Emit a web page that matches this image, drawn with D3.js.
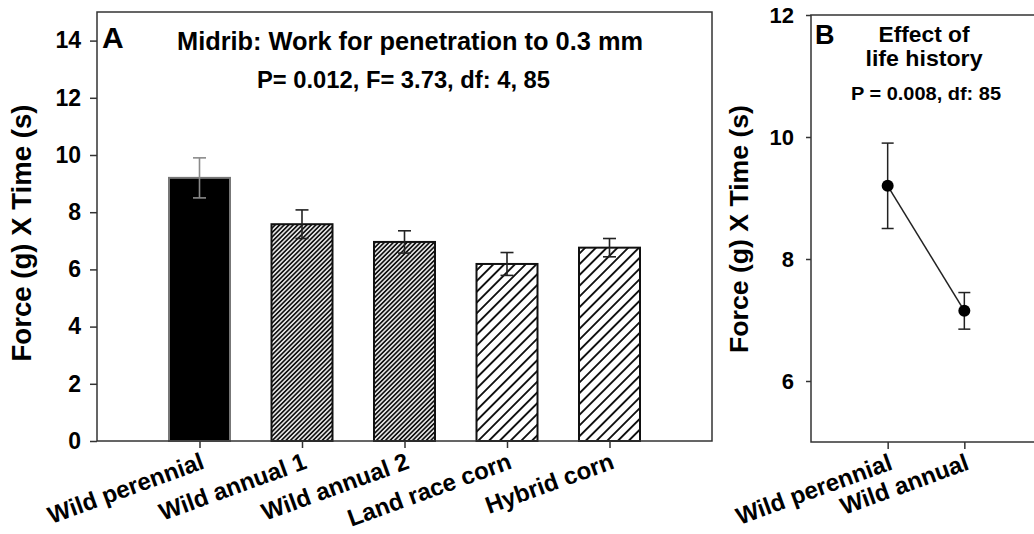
<!DOCTYPE html>
<html>
<head>
<meta charset="utf-8">
<script src="https://cdn.jsdelivr.net/npm/d3@7"></script>
<style>
body { margin: 0; background: #fff; }
svg { display: block; font-family: "Liberation Sans", Arial, sans-serif; font-weight: bold; fill: #000; }
</style>
</head>
<body>
<svg id="chart" width="1034" height="534"></svg>
<script>
// panel A data
var categories_a = ['Wild perennial', 'Wild annual 1', 'Wild annual 2', 'Land race corn', 'Hybrid corn'];
var means_a      = [9.2, 7.58, 6.96, 6.19, 6.76];
var errors_a     = [0.7, 0.5, 0.39, 0.4, 0.32];
var ticks_a      = [0, 2, 4, 6, 8, 10, 12, 14];

// panel B data
var categories_b = ['Wild perennial', 'Wild annual'];
var means_b      = [9.2, 7.15];
var errors_b     = [0.7, 0.3];
var ticks_b      = [6, 8, 10, 12];

// fill for each bar of panel A
var fill_for = {
    'Wild perennial' : '#000',
    'Wild annual 1'  : 'url(#hatch-dense)',
    'Wild annual 2'  : 'url(#hatch-dense)',
    'Land race corn' : 'url(#hatch-sparse)',
    'Hybrid corn'    : 'url(#hatch-sparse)'
};

var svg  = d3.select('#chart');
var defs = svg.append('defs');

// hatch pattern
function add_hatch(id, size, width) {
    var p = defs.append('pattern')
        .attr('id', id)
        .attr('patternUnits', 'userSpaceOnUse')
        .attr('width', size)
        .attr('height', size)
        .attr('patternTransform', 'rotate(45)');
    p.append('rect').attr('width', size).attr('height', size).attr('fill', '#fff');
    p.append('line')
        .attr('x1', size / 2).attr('y1', 0)
        .attr('x2', size / 2).attr('y2', size)
        .attr('stroke', '#111')
        .attr('stroke-width', width);
}
add_hatch('hatch-dense', 3.2, 1.8);
add_hatch('hatch-sparse', 7.6, 1.9);

// error bar helper
function draw_errors(g, xs, ys, means, errors, cats, color, width, cap) {
    cats.forEach(function(c, i) {
        var cx = xs(c);
        var top = ys(means[i] + errors[i]);
        var bottom = ys(means[i] - errors[i]);
        var e = g.append('g')
            .attr('stroke', typeof color == 'function' ? color(c) : color)
            .attr('stroke-width', width);
        e.append('line').attr('x1', cx).attr('x2', cx).attr('y1', top).attr('y2', bottom);
        e.append('line').attr('x1', cx - cap).attr('x2', cx + cap).attr('y1', top).attr('y2', top);
        e.append('line').attr('x1', cx - cap).attr('x2', cx + cap).attr('y1', bottom).attr('y2', bottom);
    });
}

// rotated category labels
function draw_labels(g, xs, cats, base_y) {
    g.selectAll('text.cat')
        .data(cats)
        .enter()
        .append('text')
        .attr('class', 'cat')
        .attr('font-size', 24)
        .attr('text-anchor', 'end')
        .attr('transform', function(d) {
            return 'translate(' + (xs(d) + 6) + ',' + (base_y + 27) + ') rotate(-20)';
        })
        .text(function(d) { return d; });
}

// style an axis
function style_axis(g, size) {
    g.select('.domain').remove();
    g.selectAll('.tick line').attr('stroke', '#333').attr('stroke-width', 1.5);
    g.selectAll('.tick text')
        .attr('font-size', size)
        .attr('font-family', '"Liberation Sans", Arial, sans-serif')
        .attr('font-weight', 'bold')
        .attr('fill', '#000');
}

// ---------------- panel A ----------------
var a = { left: 97, right: 712, top: 12, bottom: 441 };
var xa = d3.scalePoint().domain(categories_a).range([a.left, a.right]).padding(1);
var ya = d3.scaleLinear().domain([0, 15]).range([a.bottom, a.top]);
var ga = svg.append('g');

// bars
ga.selectAll('rect.bar')
    .data(categories_a)
    .enter()
    .append('rect')
    .attr('class', 'bar')
    .attr('x', function(d) { return xa(d) - 30.5; })
    .attr('width', 61)
    .attr('y', function(d, i) { return ya(means_a[i]); })
    .attr('height', function(d, i) { return ya(0) - ya(means_a[i]); })
    .attr('fill', function(d) { return fill_for[d]; })
    .attr('stroke', function(d, i) { return i == 0 ? '#777' : '#111'; })
    .attr('stroke-width', 2);

draw_errors(ga, xa, ya, means_a, errors_a, categories_a,
    function(c) { return c == 'Wild perennial' ? '#8a8a8a' : '#222'; }, 1.6, 6.5);

// frame
ga.append('rect')
    .attr('x', a.left).attr('y', a.top)
    .attr('width', a.right - a.left).attr('height', a.bottom - a.top)
    .attr('fill', 'none').attr('stroke', '#333').attr('stroke-width', 1.5);

// axes
ga.append('g')
    .attr('transform', 'translate(' + a.left + ',0)')
    .call(d3.axisLeft(ya).tickValues(ticks_a).tickSize(7).tickPadding(9))
    .call(style_axis, 23);
ga.append('g')
    .attr('transform', 'translate(0,' + a.bottom + ')')
    .call(d3.axisBottom(xa).tickSize(7).tickFormat(''))
    .call(style_axis, 23);
draw_labels(ga, xa, categories_a, a.bottom);

// titles
ga.append('text').attr('x', 102).attr('y', 48).attr('font-size', 30).text('A');
ga.append('text').attr('x', 177).attr('y', 50).attr('font-size', 25)
    .attr('textLength', 466).attr('lengthAdjust', 'spacingAndGlyphs')
    .text('Midrib: Work for penetration to 0.3 mm');
ga.append('text').attr('x', 257).attr('y', 88).attr('font-size', 23)
    .attr('textLength', 293).attr('lengthAdjust', 'spacingAndGlyphs')
    .text('P= 0.012, F= 3.73, df: 4, 85');
ga.append('text')
    .attr('transform', 'translate(31,233) rotate(-90)')
    .attr('text-anchor', 'middle').attr('font-size', 27)
    .attr('textLength', 257).attr('lengthAdjust', 'spacingAndGlyphs')
    .text('Force (g) X Time (s)');

// ---------------- panel B ----------------
var b = { left: 811, right: 1041, top: 15, bottom: 442 };
var xb = d3.scalePoint().domain(categories_b).range([b.left, b.right]).padding(1);
var yb = d3.scaleLinear().domain([5, 12]).range([b.bottom, b.top]);
var gb = svg.append('g');

// frame
gb.append('rect')
    .attr('x', b.left).attr('y', b.top)
    .attr('width', 240).attr('height', b.bottom - b.top)
    .attr('fill', 'none').attr('stroke', '#333').attr('stroke-width', 1.5);

// connecting line
gb.append('path')
    .datum(categories_b)
    .attr('d', d3.line()
        .x(function(d) { return xb(d); })
        .y(function(d, i) { return yb(means_b[i]); }))
    .attr('fill', 'none').attr('stroke', '#222').attr('stroke-width', 1.5);

draw_errors(gb, xb, yb, means_b, errors_b, categories_b, '#222', 1.5, 6);

// points
gb.selectAll('circle')
    .data(categories_b)
    .enter()
    .append('circle')
    .attr('cx', function(d) { return xb(d); })
    .attr('cy', function(d, i) { return yb(means_b[i]); })
    .attr('r', 6)
    .attr('fill', '#000');

// axes
gb.append('g')
    .attr('transform', 'translate(' + b.left + ',0)')
    .call(d3.axisLeft(yb).tickValues(ticks_b).tickSize(5).tickPadding(12).tickFormat(d3.format('d')))
    .call(style_axis, 22);
gb.append('g')
    .attr('transform', 'translate(0,' + b.bottom + ')')
    .call(d3.axisBottom(xb).tickSize(7).tickFormat(''))
    .call(style_axis, 22);
draw_labels(gb, xb, categories_b, b.bottom);

// titles
gb.append('text').attr('x', 815).attr('y', 44).attr('font-size', 27).text('B');
gb.append('text').attr('x', 924).attr('y', 42).attr('font-size', 22)
    .attr('text-anchor', 'middle')
    .attr('textLength', 91).attr('lengthAdjust', 'spacingAndGlyphs')
    .text('Effect of');
gb.append('text').attr('x', 924).attr('y', 66).attr('font-size', 22)
    .attr('text-anchor', 'middle')
    .attr('textLength', 117).attr('lengthAdjust', 'spacingAndGlyphs')
    .text('life history');
gb.append('text').attr('x', 926).attr('y', 100).attr('font-size', 19)
    .attr('text-anchor', 'middle')
    .attr('textLength', 150).attr('lengthAdjust', 'spacingAndGlyphs')
    .text('P = 0.008, df: 85');
gb.append('text')
    .attr('transform', 'translate(748,229) rotate(-90)')
    .attr('text-anchor', 'middle').attr('font-size', 25)
    .attr('textLength', 248).attr('lengthAdjust', 'spacingAndGlyphs')
    .text('Force (g) X Time (s)');
</script>
</body>
</html>
